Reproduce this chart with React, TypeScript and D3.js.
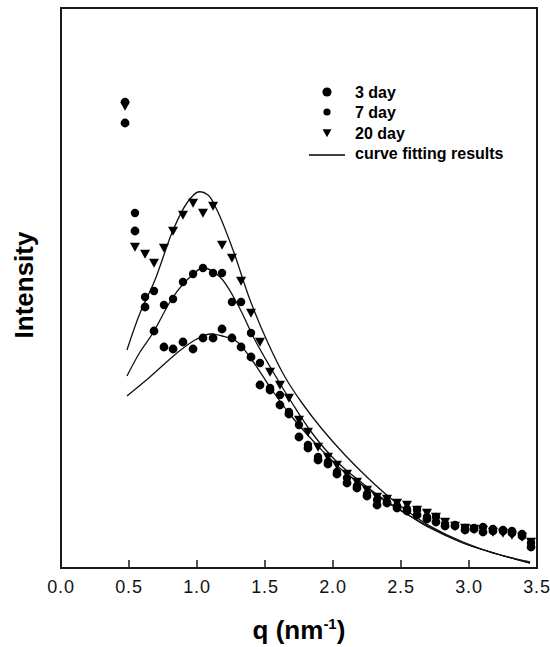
import React from "react";
import * as d3 from "d3";

// ---- data ----
const qValues = [0.471, 0.544, 0.618, 0.684, 0.757, 0.824, 0.897, 0.971, 1.044, 1.118, 1.184, 1.257, 1.324, 1.397, 1.463, 1.537, 1.61, 1.676, 1.75, 1.816, 1.89, 1.963, 2.029, 2.103, 2.176, 2.25, 2.324, 2.397, 2.471, 2.544, 2.618, 2.691, 2.757, 2.824, 2.897, 2.971, 3.037, 3.103, 3.176, 3.25, 3.316, 3.39, 3.456];

const day3 = [445, 337, 261, 237, 221, 219, 226, 219, 230, 230, 239, 230, 221, 211, 183, 178, 163, 154, 131, 120, 108, 104, 94, 85, 80, 72, 63, 65, 60, 57, 53, 49, 46, 42, 42, 38, 39, 36, 37, 37, 35, 32, 21];
const day7 = [466, 355, 271, 277, 263, 269, 286, 294, 300, 295, 295, 266, 266, 235, 205, 180, 173, 156, 143, 123, 111, 106, 96, 90, 82, 74, 68, 66, 62, 59, 58, 51, 51, 44, 43, 40, 40, 41, 39, 38, 37, 34, 25];
const day20 = [462, 321, 314, 305, 320, 337, 353, 365, 355, 362, 323, 310, 287, 255, 226, 196, 183, 170, 148, 136, 121, 111, 103, 94, 86, 78, 71, 69, 65, 63, 58, 55, 51, 46, 42, 40, 39, 38, 36, 35, 33, 31, 26];

const fit20Q = [0.485, 0.581, 0.691, 0.824, 0.926, 1.007, 1.081, 1.147, 1.265, 1.39, 1.522, 1.647, 1.772, 1.919, 2.088, 2.257, 2.404, 2.566, 2.713, 2.956, 3.206, 3.449];
const fit20I = [218, 255, 288, 338, 365, 376, 373, 358, 318, 268, 225, 191, 165, 139, 113, 90, 72, 55, 42, 26, 14, 6];
const fit7Q = [0.485, 0.581, 0.676, 0.824, 0.949, 1.044, 1.169, 1.301, 1.426, 1.551, 1.699, 1.846, 2.015, 2.213, 2.382, 2.566, 2.713, 2.956, 3.206, 3.449];
const fit7I = [192, 216, 235, 271, 291, 300, 291, 263, 228, 198, 165, 135, 108, 85, 68, 52, 40, 25, 14, 5];
const fit3Q = [0.485, 0.654, 0.853, 0.985, 1.096, 1.184, 1.287, 1.404, 1.551, 1.699, 1.868, 2.066, 2.257, 2.382, 2.566, 2.713, 2.956, 3.206, 3.449];
const fit3I = [172, 191, 215, 228, 234, 232, 227, 208, 178, 151, 125, 98, 79, 67, 52, 41, 25, 14, 5];

const xTicks = [0, 0.5, 1.0, 1.5, 2.0, 2.5, 3.0, 3.5];
const legendLabels = ["3 day", "7 day", "20 day", "curve fitting results"];

const W = 550;
const H = 647;
const M = { left: 61, right: 537, top: 8, bottom: 568 };
const FONT = "Liberation Sans, Arial, Helvetica, sans-serif";

const tri = (cx: number, cy: number, s: number) =>
  `M${cx - s},${cy - s * 0.85}L${cx + s},${cy - s * 0.85}L${cx},${cy + s * 0.95}Z`;

export default function App() {
  const x = d3.scaleLinear().domain([0, 3.5]).range([M.left, M.right]);
  const y = d3.scaleLinear().domain([0, 560]).range([M.bottom, M.top]);

  const line = d3
    .line<[number, number]>()
    .x((d) => x(d[0]))
    .y((d) => y(d[1]))
    .curve(d3.curveCatmullRom.alpha(0.5));

  const fits = [
    d3.zip(fit3Q, fit3I) as [number, number][],
    d3.zip(fit7Q, fit7I) as [number, number][],
    d3.zip(fit20Q, fit20I) as [number, number][],
  ];

  return (
    <svg
      width={W}
      height={H}
      style={{ position: "absolute", left: 0, top: 0, background: "#fff" }}
      fontFamily={FONT}
    >
      <rect x={0} y={0} width={W} height={H} fill="#fff" />
      {/* fit curves */}
      {fits.map((f, i) => (
        <path key={i} d={line(f) || ""} fill="none" stroke="#111" strokeWidth={1.3} />
      ))}
      {/* data */}
      {qValues.map((q, i) => (
        <circle key={"a" + i} cx={x(q)} cy={y(day3[i])} r={4.4} fill="#000" />
      ))}
      {qValues.map((q, i) => (
        <circle key={"b" + i} cx={x(q)} cy={y(day7[i])} r={4.2} fill="#000" />
      ))}
      {qValues.map((q, i) => (
        <path key={"c" + i} d={tri(x(q), y(day20[i]), 5)} fill="#000" />
      ))}

      {/* frame */}
      <rect
        x={M.left}
        y={M.top}
        width={M.right - M.left}
        height={M.bottom - M.top}
        fill="none"
        stroke="#1a1a1a"
        strokeWidth={2}
      />
      {xTicks.map((t) => (
        <g key={t}>
          {t > 0 && t < 3.5 && (
            <line x1={x(t)} x2={x(t)} y1={M.bottom} y2={M.bottom - 8} stroke="#1a1a1a" strokeWidth={1.5} />
          )}
          <text
            x={x(t)}
            y={593}
            textAnchor="middle"
            fontSize={18}
            letterSpacing={0.8}
            fill="#111"
          >
            {t.toFixed(1)}
          </text>
        </g>
      ))}

      {/* axis titles */}
      <text x={299} y={639} textAnchor="middle" fontSize={26} fontWeight="bold" fill="#000">
        q (nm
        <tspan dy={-10} fontSize={15}>-1</tspan>
        <tspan dy={10}>)</tspan>
      </text>
      <text
        transform="translate(33,285) rotate(-90)"
        textAnchor="middle"
        fontSize={26}
        fontWeight="bold"
        fill="#000"
      >
        Intensity
      </text>

      {/* legend */}
      <circle cx={327} cy={92} r={4.6} fill="#000" />
      <circle cx={327} cy={112} r={3.6} fill="#000" />
      <path d={tri(327, 133, 4.5)} fill="#000" />
      <line x1={309} x2={345} y1={155} y2={155} stroke="#000" strokeWidth={1.3} />
      {legendLabels.map((l, i) => (
        <text key={l} x={355} y={98 + i * 20.3} fontSize={16} fontWeight="bold" fill="#000">
          {l}
        </text>
      ))}
    </svg>
  );
}
